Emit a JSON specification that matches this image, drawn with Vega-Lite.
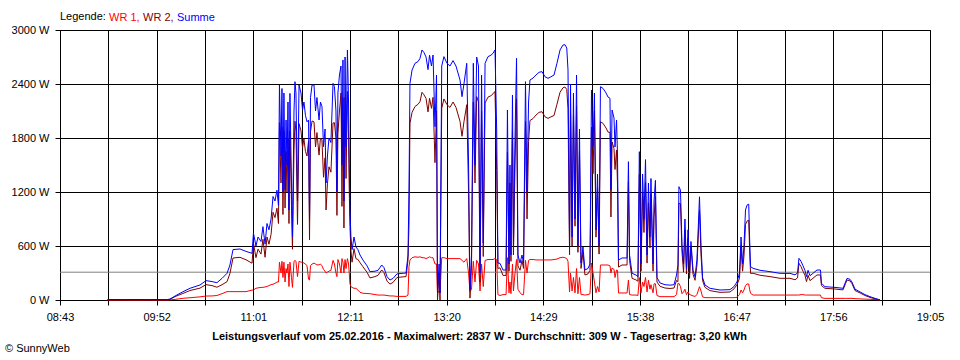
{
  "$schema": "https://vega.github.io/schema/vega-lite/v6.json",
  "width": 870,
  "height": 270,
  "autosize": "none",
  "padding": {"left": 60, "top": 30, "right": 30, "bottom": 60},
  "background": "white",
  "config": {
    "font": "Liberation Sans",
    "view": {"stroke": "#000000", "strokeWidth": 1},
    "axis": {"labelFont": "Liberation Sans", "labelFontSize": 11, "labelColor": "#000000", "titleFont": "Liberation Sans", "titleColor": "#000000", "domainColor": "#000000", "tickColor": "#000000", "gridColor": "#000000", "gridOpacity": 1, "domainWidth": 1, "tickWidth": 1, "gridWidth": 1, "tickSize": 5}
  },
  "datasets": {
    "leistung": [
      {"t":557,"wr1":0,"wr2":5,"summe":5},{"t":570,"wr1":0,"wr2":5,"summe":5},{"t":585,"wr1":0,"wr2":5,"summe":5},{"t":600,"wr1":0,"wr2":5,"summe":5},
      {"t":601.6,"wr1":2,"wr2":8,"summe":10},{"t":605.9,"wr1":8,"wr2":42,"summe":50},{"t":610.9,"wr1":19,"wr2":73,"summe":92},{"t":615.9,"wr1":25,"wr2":105,"summe":130},
      {"t":623.1,"wr1":35,"wr2":132,"summe":167},{"t":627.4,"wr1":44,"wr2":171,"summe":215},{"t":631.7,"wr1":45,"wr2":160,"summe":205},{"t":635.2,"wr1":50,"wr2":142,"summe":192},
      {"t":638.8,"wr1":70,"wr2":170,"summe":240},{"t":642.4,"wr1":93,"wr2":203,"summe":296},{"t":644.5,"wr1":93,"wr2":296,"summe":389},{"t":646.7,"wr1":93,"wr2":467,"summe":560},
      {"t":651.7,"wr1":93,"wr2":474,"summe":567},{"t":656.0,"wr1":93,"wr2":447,"summe":540},{"t":660.3,"wr1":110,"wr2":409,"summe":519},{"t":661.3,"wr1":111,"wr2":633,"summe":744},
      {"t":663.1,"wr1":130,"wr2":470,"summe":600},{"t":664.6,"wr1":135,"wr2":565,"summe":700},{"t":666.7,"wr1":140,"wr2":510,"summe":650},{"t":668.1,"wr1":140,"wr2":675,"summe":815},
      {"t":669.6,"wr1":145,"wr2":475,"summe":620},{"t":671.0,"wr1":150,"wr2":700,"summe":850},{"t":672.4,"wr1":160,"wr2":620,"summe":780},{"t":673.9,"wr1":170,"wr2":730,"summe":900},
      {"t":675.3,"wr1":175,"wr2":975,"summe":1150},{"t":676.7,"wr1":185,"wr2":915,"summe":1100},{"t":678.1,"wr1":200,"wr2":1020,"summe":1220},{"t":679.2,"wr1":200,"wr2":850,"summe":1050},
      {"t":679.9,"wr1":420,"wr2":1970,"summe":2390},{"t":681.0,"wr1":300,"wr2":1300,"summe":1600},{"t":681.7,"wr1":430,"wr2":1920,"summe":2350},{"t":682.4,"wr1":250,"wr2":950,"summe":1200},
      {"t":683.1,"wr1":420,"wr2":1880,"summe":2300},{"t":683.9,"wr1":200,"wr2":1022,"summe":1222},{"t":684.6,"wr1":350,"wr2":1650,"summe":2000},{"t":685.3,"wr1":300,"wr2":1200,"summe":1500},
      {"t":686.0,"wr1":400,"wr2":1800,"summe":2200},{"t":686.7,"wr1":150,"wr2":850,"summe":1000},{"t":687.4,"wr1":420,"wr2":1876,"summe":2296},{"t":688.5,"wr1":250,"wr2":1050,"summe":1300},
      {"t":689.2,"wr1":140,"wr2":564,"summe":704},{"t":690.3,"wr1":430,"wr2":1670,"summe":2100},{"t":691.0,"wr1":440,"wr2":1986,"summe":2426},{"t":691.7,"wr1":430,"wr2":1870,"summe":2300},
      {"t":692.8,"wr1":260,"wr2":840,"summe":1100},{"t":693.9,"wr1":430,"wr2":1959,"summe":2389},{"t":695.3,"wr1":420,"wr2":1880,"summe":2300},{"t":696.4,"wr1":420,"wr2":1691,"summe":2111},
      {"t":697.4,"wr1":410,"wr2":1790,"summe":2200},{"t":698.5,"wr1":400,"wr2":1650,"summe":2050},{"t":699.6,"wr1":380,"wr2":1600,"summe":1980},{"t":700.7,"wr1":230,"wr2":1770,"summe":2000},
      {"t":701.4,"wr1":222,"wr2":667,"summe":889},{"t":702.1,"wr1":380,"wr2":1870,"summe":2250},{"t":703.2,"wr1":400,"wr2":1989,"summe":2389},{"t":704.6,"wr1":410,"wr2":1979,"summe":2389},
      {"t":705.7,"wr1":400,"wr2":1700,"summe":2100},{"t":706.7,"wr1":390,"wr2":1860,"summe":2250},{"t":708.2,"wr1":390,"wr2":1610,"summe":2000},{"t":709.2,"wr1":400,"wr2":1800,"summe":2200},
      {"t":710.3,"wr1":380,"wr2":1770,"summe":2150},{"t":711.4,"wr1":340,"wr2":1364,"summe":1704},{"t":712.5,"wr1":320,"wr2":1580,"summe":1900},{"t":713.2,"wr1":300,"wr2":1000,"summe":1300},
      {"t":714.2,"wr1":310,"wr2":1290,"summe":1600},{"t":715.3,"wr1":320,"wr2":1480,"summe":1800},{"t":716.7,"wr1":330,"wr2":1420,"summe":1750},{"t":718.2,"wr1":440,"wr2":1967,"summe":2407},
      {"t":719.2,"wr1":400,"wr2":1970,"summe":2370},{"t":720.3,"wr1":300,"wr2":1800,"summe":2100},{"t":721.0,"wr1":260,"wr2":940,"summe":1200},{"t":721.7,"wr1":450,"wr2":1850,"summe":2300},
      {"t":722.8,"wr1":400,"wr2":2100,"summe":2500},{"t":723.9,"wr1":300,"wr2":2300,"summe":2600},{"t":724.6,"wr1":460,"wr2":1040,"summe":1500},{"t":725.3,"wr1":420,"wr2":2247,"summe":2667},
      {"t":726.0,"wr1":300,"wr2":800,"summe":1100},{"t":726.8,"wr1":450,"wr2":2250,"summe":2700},{"t":727.5,"wr1":350,"wr2":1350,"summe":1700},{"t":728.5,"wr1":460,"wr2":2318,"summe":2778},
      {"t":729.3,"wr1":400,"wr2":1800,"summe":2200},{"t":729.8,"wr1":300,"wr2":1218,"summe":1518},{"t":730.3,"wr1":180,"wr2":820,"summe":1000},{"t":731.0,"wr1":150,"wr2":550,"summe":700},
      {"t":731.8,"wr1":140,"wr2":420,"summe":560},{"t":733.2,"wr1":130,"wr2":570,"summe":700},{"t":734.6,"wr1":130,"wr2":459,"summe":589},{"t":736.0,"wr1":110,"wr2":450,"summe":560},
      {"t":737.5,"wr1":85,"wr2":415,"summe":500},{"t":739.6,"wr1":75,"wr2":369,"summe":444},{"t":742.5,"wr1":72,"wr2":308,"summe":380},{"t":744.6,"wr1":70,"wr2":245,"summe":315},
      {"t":748.2,"wr1":60,"wr2":260,"summe":320},{"t":750.4,"wr1":55,"wr2":275,"summe":330},{"t":753.0,"wr1":55,"wr2":334,"summe":389},{"t":754.6,"wr1":55,"wr2":305,"summe":360},
      {"t":756.8,"wr1":50,"wr2":210,"summe":260},{"t":758.9,"wr1":45,"wr2":177,"summe":222},{"t":761.1,"wr1":45,"wr2":195,"summe":240},{"t":763.9,"wr1":40,"wr2":250,"summe":290},
      {"t":767.5,"wr1":40,"wr2":256,"summe":296},{"t":770.4,"wr1":40,"wr2":260,"summe":300},{"t":771.8,"wr1":55,"wr2":445,"summe":500},{"t":772.5,"wr1":370,"wr2":830,"summe":1200},
      {"t":773.2,"wr1":444,"wr2":1963,"summe":2407},{"t":774.7,"wr1":470,"wr2":2085,"summe":2555},{"t":776.8,"wr1":480,"wr2":2150,"summe":2630},{"t":779.0,"wr1":475,"wr2":2175,"summe":2650},
      {"t":780.4,"wr1":480,"wr2":2205,"summe":2685},{"t":781.8,"wr1":470,"wr2":2308,"summe":2778},{"t":783.2,"wr1":470,"wr2":2280,"summe":2750},{"t":784.7,"wr1":460,"wr2":2240,"summe":2700},
      {"t":786.1,"wr1":470,"wr2":2090,"summe":2560},{"t":787.2,"wr1":480,"wr2":2240,"summe":2720},{"t":788.6,"wr1":470,"wr2":2130,"summe":2600},{"t":789.7,"wr1":470,"wr2":2252,"summe":2722},
      {"t":791.1,"wr1":400,"wr2":1526,"summe":1926},{"t":792.2,"wr1":400,"wr2":2100,"summe":2500},{"t":792.9,"wr1":78,"wr2":0,"summe":78},{"t":794.0,"wr1":100,"wr2":300,"summe":400},
      {"t":794.7,"wr1":78,"wr2":0,"summe":78},{"t":795.9,"wr1":470,"wr2":2130,"summe":2600},{"t":797.5,"wr1":470,"wr2":2234,"summe":2704},{"t":799.7,"wr1":460,"wr2":2170,"summe":2630},
      {"t":801.8,"wr1":460,"wr2":2140,"summe":2600},{"t":804.0,"wr1":460,"wr2":2200,"summe":2660},{"t":806.1,"wr1":460,"wr2":2140,"summe":2600},{"t":809.0,"wr1":460,"wr2":1984,"summe":2444},
      {"t":810.4,"wr1":440,"wr2":1819,"summe":2259},{"t":811.8,"wr1":420,"wr2":1980,"summe":2400},{"t":813.8,"wr1":460,"wr2":2170,"summe":2630},{"t":815.1,"wr1":300,"wr2":1200,"summe":1500},
      {"t":816.1,"wr1":90,"wr2":21,"summe":111},{"t":817.2,"wr1":120,"wr2":380,"summe":500},{"t":818.5,"wr1":430,"wr2":2200,"summe":2630},{"t":819.7,"wr1":200,"wr2":1300,"summe":1500},
      {"t":820.9,"wr1":440,"wr2":2260,"summe":2700},{"t":822.2,"wr1":400,"wr2":2200,"summe":2600},{"t":823.3,"wr1":100,"wr2":200,"summe":300},{"t":824.4,"wr1":400,"wr2":2100,"summe":2500},
      {"t":825.6,"wr1":150,"wr2":483,"summe":633},{"t":826.9,"wr1":440,"wr2":2190,"summe":2630},{"t":829.0,"wr1":450,"wr2":2254,"summe":2704},{"t":831.1,"wr1":450,"wr2":2270,"summe":2720},
      {"t":832.6,"wr1":450,"wr2":2291,"summe":2741},{"t":834.0,"wr1":460,"wr2":2318,"summe":2778},{"t":835.2,"wr1":450,"wr2":1439,"summe":1889},{"t":836.1,"wr1":60,"wr2":351,"summe":411},
      {"t":837.6,"wr1":50,"wr2":357,"summe":407},{"t":839.7,"wr1":60,"wr2":273,"summe":333},{"t":841.9,"wr1":60,"wr2":273,"summe":333},{"t":842.9,"wr1":470,"wr2":1641,"summe":2111},
      {"t":844.0,"wr1":80,"wr2":320,"summe":400},{"t":844.7,"wr1":200,"wr2":1300,"summe":1500},{"t":845.4,"wr1":70,"wr2":430,"summe":500},{"t":846.5,"wr1":400,"wr2":1878,"summe":2278},
      {"t":847.2,"wr1":100,"wr2":500,"summe":600},{"t":848.3,"wr1":300,"wr2":1500,"summe":1800},{"t":849.4,"wr1":450,"wr2":2235,"summe":2685},{"t":850.4,"wr1":120,"wr2":380,"summe":500},
      {"t":851.9,"wr1":80,"wr2":331,"summe":411},{"t":853.3,"wr1":60,"wr2":440,"summe":500},{"t":854.4,"wr1":60,"wr2":351,"summe":411},{"t":855.8,"wr1":440,"wr2":1986,"summe":2426},
      {"t":856.9,"wr1":300,"wr2":900,"summe":1200},{"t":858.0,"wr1":440,"wr2":1760,"summe":2200},{"t":859.0,"wr1":450,"wr2":1994,"summe":2444},{"t":861.2,"wr1":450,"wr2":2016,"summe":2466},
      {"t":863.3,"wr1":445,"wr2":2055,"summe":2500},{"t":865.5,"wr1":445,"wr2":2085,"summe":2530},{"t":867.6,"wr1":445,"wr2":2092,"summe":2537},{"t":869.8,"wr1":445,"wr2":2035,"summe":2480},
      {"t":871.9,"wr1":445,"wr2":2018,"summe":2463},{"t":874.0,"wr1":445,"wr2":2035,"summe":2480},{"t":876.2,"wr1":450,"wr2":2050,"summe":2500},{"t":878.3,"wr1":455,"wr2":2175,"summe":2630},
      {"t":880.5,"wr1":470,"wr2":2308,"summe":2778},{"t":882.6,"wr1":475,"wr2":2358,"summe":2833},{"t":884.0,"wr1":470,"wr2":2367,"summe":2837},{"t":885.3,"wr1":460,"wr2":2340,"summe":2800},
      {"t":886.2,"wr1":430,"wr2":2125,"summe":2555},{"t":887.3,"wr1":90,"wr2":503,"summe":593},{"t":888.0,"wr1":300,"wr2":2100,"summe":2400},{"t":889.1,"wr1":100,"wr2":600,"summe":700},
      {"t":890.1,"wr1":250,"wr2":2050,"summe":2300},{"t":891.2,"wr1":80,"wr2":820,"summe":900},{"t":892.3,"wr1":350,"wr2":2150,"summe":2500},{"t":893.3,"wr1":70,"wr2":530,"summe":600},
      {"t":894.4,"wr1":250,"wr2":1650,"summe":1900},{"t":895.5,"wr1":60,"wr2":351,"summe":411},{"t":896.9,"wr1":60,"wr2":529,"summe":589},{"t":898.3,"wr1":55,"wr2":278,"summe":333},
      {"t":900.5,"wr1":60,"wr2":290,"summe":350},{"t":901.9,"wr1":70,"wr2":330,"summe":400},{"t":903.0,"wr1":411,"wr2":1922,"summe":2333},{"t":904.1,"wr1":300,"wr2":1404,"summe":1704},
      {"t":905.1,"wr1":200,"wr2":2100,"summe":2300},{"t":906.2,"wr1":80,"wr2":698,"summe":778},{"t":907.3,"wr1":150,"wr2":1250,"summe":1400},{"t":908.4,"wr1":90,"wr2":510,"summe":600},
      {"t":909.4,"wr1":389,"wr2":1981,"summe":2370},{"t":911.2,"wr1":389,"wr2":1963,"summe":2352},{"t":913.4,"wr1":389,"wr2":1911,"summe":2300},{"t":914.8,"wr1":389,"wr2":1866,"summe":2255},
      {"t":916.2,"wr1":380,"wr2":1861,"summe":2241},{"t":916.9,"wr1":300,"wr2":922,"summe":1222},{"t":917.7,"wr1":355,"wr2":1756,"summe":2111},{"t":919.1,"wr1":340,"wr2":1682,"summe":2022},
      {"t":919.8,"wr1":250,"wr2":1450,"summe":1700},{"t":920.9,"wr1":333,"wr2":1667,"summe":2000},{"t":921.6,"wr1":330,"wr2":1270,"summe":1600},{"t":922.3,"wr1":78,"wr2":366,"summe":444},
      {"t":924.8,"wr1":78,"wr2":389,"summe":467},{"t":928.4,"wr1":78,"wr2":389,"summe":467},{"t":929.4,"wr1":222,"wr2":1315,"summe":1537},{"t":930.2,"wr1":60,"wr2":440,"summe":500},
      {"t":932.0,"wr1":55,"wr2":241,"summe":296},{"t":934.8,"wr1":55,"wr2":223,"summe":278},{"t":936.2,"wr1":50,"wr2":209,"summe":259},{"t":937.2,"wr1":250,"wr2":1398,"summe":1648},
      {"t":938.4,"wr1":80,"wr2":320,"summe":400},{"t":939.5,"wr1":200,"wr2":1200,"summe":1400},{"t":940.5,"wr1":150,"wr2":750,"summe":900},{"t":941.6,"wr1":250,"wr2":1310,"summe":1560},
      {"t":942.7,"wr1":90,"wr2":410,"summe":500},{"t":943.7,"wr1":220,"wr2":1080,"summe":1300},{"t":944.8,"wr1":120,"wr2":580,"summe":700},{"t":945.5,"wr1":170,"wr2":1180,"summe":1350},
      {"t":947.0,"wr1":80,"wr2":320,"summe":400},{"t":947.7,"wr1":180,"wr2":920,"summe":1100},{"t":948.7,"wr1":180,"wr2":1150,"summe":1330},{"t":949.8,"wr1":50,"wr2":200,"summe":250},
      {"t":952.0,"wr1":37,"wr2":152,"summe":189},{"t":955.5,"wr1":37,"wr2":133,"summe":170},{"t":959.1,"wr1":37,"wr2":128,"summe":165},{"t":962.0,"wr1":37,"wr2":133,"summe":170},
      {"t":963.8,"wr1":60,"wr2":218,"summe":278},{"t":964.8,"wr1":185,"wr2":204,"summe":389},{"t":965.5,"wr1":185,"wr2":1074,"summe":1259},{"t":966.6,"wr1":150,"wr2":1071,"summe":1221},
      {"t":967.7,"wr1":70,"wr2":530,"summe":600},{"t":968.8,"wr1":90,"wr2":310,"summe":400},{"t":969.8,"wr1":120,"wr2":780,"summe":900},{"t":970.9,"wr1":60,"wr2":290,"summe":350},
      {"t":972.0,"wr1":90,"wr2":690,"summe":780},{"t":973.1,"wr1":60,"wr2":240,"summe":300},{"t":974.1,"wr1":55,"wr2":595,"summe":650},{"t":975.6,"wr1":45,"wr2":285,"summe":330},
      {"t":977.0,"wr1":40,"wr2":219,"summe":259},{"t":978.4,"wr1":60,"wr2":390,"summe":450},{"t":980.2,"wr1":148,"wr2":999,"summe":1147},{"t":981.3,"wr1":100,"wr2":500,"summe":600},
      {"t":982.4,"wr1":35,"wr2":215,"summe":250},{"t":984.1,"wr1":26,"wr2":141,"summe":167},{"t":987.7,"wr1":26,"wr2":104,"summe":130},{"t":994.9,"wr1":26,"wr2":85,"summe":111},
      {"t":1002.0,"wr1":26,"wr2":89,"summe":115},{"t":1004.9,"wr1":26,"wr2":124,"summe":150},{"t":1007.0,"wr1":30,"wr2":170,"summe":200},{"t":1008.8,"wr1":60,"wr2":240,"summe":300},
      {"t":1009.9,"wr1":111,"wr2":589,"summe":700},{"t":1011.0,"wr1":80,"wr2":320,"summe":400},{"t":1012.0,"wr1":111,"wr2":489,"summe":600},{"t":1013.1,"wr1":160,"wr2":840,"summe":1000},
      {"t":1014.2,"wr1":178,"wr2":877,"summe":1055},{"t":1015.4,"wr1":178,"wr2":887,"summe":1065},{"t":1016.0,"wr1":120,"wr2":580,"summe":700},{"t":1016.7,"wr1":74,"wr2":296,"summe":370},
      {"t":1018.5,"wr1":55,"wr2":297,"summe":352},{"t":1023.5,"wr1":55,"wr2":275,"summe":330},{"t":1030.6,"wr1":55,"wr2":260,"summe":315},{"t":1037.8,"wr1":55,"wr2":241,"summe":296},
      {"t":1044.9,"wr1":55,"wr2":241,"summe":296},{"t":1048.5,"wr1":55,"wr2":225,"summe":280},{"t":1050.3,"wr1":55,"wr2":245,"summe":300},{"t":1051.3,"wr1":55,"wr2":408,"summe":463},
      {"t":1052.8,"wr1":60,"wr2":370,"summe":430},{"t":1054.2,"wr1":60,"wr2":320,"summe":380},{"t":1055.6,"wr1":55,"wr2":275,"summe":330},{"t":1056.7,"wr1":55,"wr2":205,"summe":260},
      {"t":1057.8,"wr1":55,"wr2":275,"summe":330},{"t":1059.2,"wr1":55,"wr2":215,"summe":270},{"t":1061.3,"wr1":55,"wr2":241,"summe":296},{"t":1064.2,"wr1":55,"wr2":278,"summe":333},
      {"t":1066.7,"wr1":55,"wr2":278,"summe":333},{"t":1067.4,"wr1":25,"wr2":160,"summe":185},{"t":1069.9,"wr1":18,"wr2":130,"summe":148},{"t":1077.1,"wr1":18,"wr2":122,"summe":140},
      {"t":1082.8,"wr1":18,"wr2":112,"summe":130},{"t":1084.6,"wr1":18,"wr2":182,"summe":200},{"t":1085.7,"wr1":18,"wr2":222,"summe":240},{"t":1087.8,"wr1":18,"wr2":212,"summe":230},
      {"t":1089.2,"wr1":18,"wr2":182,"summe":200},{"t":1091.4,"wr1":15,"wr2":105,"summe":120},{"t":1095.0,"wr1":12,"wr2":78,"summe":90},{"t":1098.5,"wr1":10,"wr2":50,"summe":60},
      {"t":1102.1,"wr1":8,"wr2":29,"summe":37},{"t":1105.7,"wr1":5,"wr2":13,"summe":18},{"t":1107.8,"wr1":2,"wr2":6,"summe":8},{"t":1109.3,"wr1":0,"wr2":0,"summe":0}
    ],
    "mittel": [{"t": 523, "durchschnitt": 309}, {"t": 1145, "durchschnitt": 309}]
  },
  "title": {"text": "© SunnyWeb", "orient": "bottom", "anchor": "start", "frame": "group", "font": "Liberation Sans", "fontSize": 11, "fontWeight": "normal", "color": "#000000", "dx": -55, "offset": 2, "baseline": "top"},
  "encoding": {
    "x": {
      "field": "t", "type": "quantitative",
      "scale": {"domain": [523, 1145], "nice": false, "zero": false},
      "axis": {
        "title": "Leistungsverlauf vom 25.02.2016 - Maximalwert: 2837 W - Durchschnitt: 309 W - Tagesertrag: 3,20 kWh",
        "titleFontWeight": "bold", "titleFontSize": 11, "titleX": 419, "titleY": 36, "titleAlign": "center", "titleBaseline": "middle", "titleAnchor": null,
        "values": [523, 557.556, 592.111, 626.667, 661.222, 695.778, 730.333, 764.889, 799.444, 834, 868.556, 903.111, 937.667, 972.222, 1006.778, 1041.333, 1075.889, 1110.444, 1145],
        "labelExpr": "['08:43','','09:52','','11:01','','12:11','','13:20','','14:29','','15:38','','16:47','','17:56','','19:05'][round((datum.value - 523) / 34.5556)]",
        "labelOverlap": false, "labelFlush": false, "labelPadding": 6, "grid": true, "tickSize": 5
      }
    }
  },
  "layer": [
    {
      "data": {"name": "mittel"},
      "mark": {"type": "line", "color": "#808080", "strokeWidth": 1},
      "encoding": {
        "y": {"field": "durchschnitt", "type": "quantitative", "scale": {"domain": [0, 3000], "nice": false},
          "axis": {"title": null, "values": [0, 600, 1200, 1800, 2400, 3000], "labelExpr": "datum.value + ' W'", "grid": true, "tickSize": 5, "labelPadding": 6}}
      }
    },
    {
      "data": {"name": "leistung"},
      "mark": {"type": "line", "strokeWidth": 1},
      "encoding": {
        "y": {"field": "wr1", "type": "quantitative", "scale": {"domain": [0, 3000], "nice": false},
          "axis": {"title": null, "values": [0, 600, 1200, 1800, 2400, 3000], "labelExpr": "datum.value + ' W'", "grid": true, "tickSize": 5, "labelPadding": 6}},
        "color": {"datum": "WR 1", "type": "nominal",
          "scale": {"domain": ["WR 1", "WR 2", "Summe"], "range": ["#ff0000", "#800000", "#0000ff"]},
          "legend": {"orient": "top", "direction": "horizontal", "title": "Legende:", "titleOrient": "left", "titleFont": "Liberation Sans", "titleFontSize": 11, "titleFontWeight": "normal", "titleColor": "#000000", "titlePadding": 4,
            "labelFont": "Liberation Sans", "labelFontSize": 11, "labelOffset": -12, "columnPadding": 3, "symbolType": "circle", "symbolSize": 0, "symbolOpacity": 0, "symbolStrokeWidth": 0, "offset": 7, "padding": 0,
            "labelExpr": "datum.label == 'Summe' ? 'Summe' : datum.label + ','",
            "encode": {"labels": {"update": {"fill": {"scale": "color", "field": "value"}}}}}}
      }
    },
    {
      "data": {"name": "leistung"},
      "mark": {"type": "line", "strokeWidth": 1},
      "encoding": {
        "y": {"field": "wr2", "type": "quantitative", "scale": {"domain": [0, 3000], "nice": false},
          "axis": {"title": null, "values": [0, 600, 1200, 1800, 2400, 3000], "labelExpr": "datum.value + ' W'", "grid": true, "tickSize": 5, "labelPadding": 6}},
        "color": {"datum": "WR 2", "type": "nominal"}
      }
    },
    {
      "data": {"name": "leistung"},
      "mark": {"type": "line", "strokeWidth": 1},
      "encoding": {
        "y": {"field": "summe", "type": "quantitative", "scale": {"domain": [0, 3000], "nice": false},
          "axis": {"title": null, "values": [0, 600, 1200, 1800, 2400, 3000], "labelExpr": "datum.value + ' W'", "grid": true, "tickSize": 5, "labelPadding": 6}},
        "color": {"datum": "Summe", "type": "nominal"}
      }
    }
  ]
}
